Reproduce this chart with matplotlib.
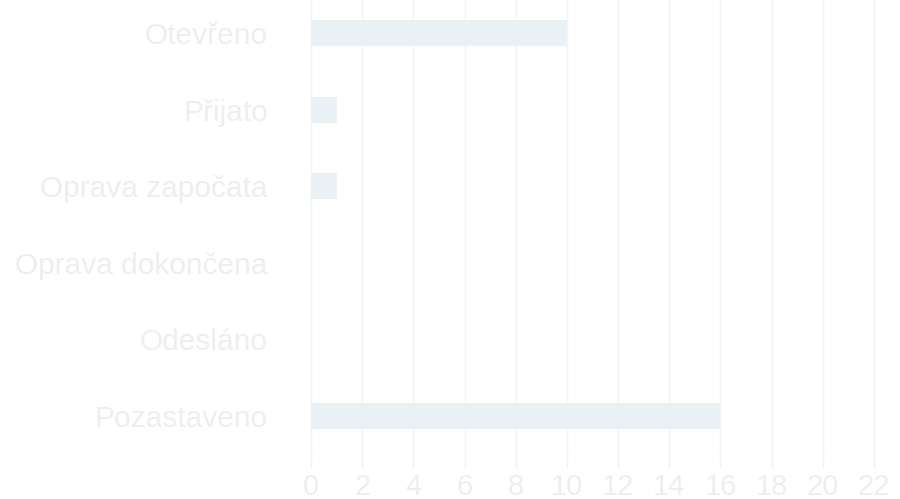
import matplotlib
matplotlib.use("Agg")
import matplotlib.pyplot as plt

categories = ["Otevřeno", "Přijato", "Oprava započata", "Oprava dokončena", "Odesláno", "Pozastaveno"]
values = [10, 1, 1, 0, 0, 16]
xticks = list(range(0, 23, 2))

plt.rcParams['font.family'] = ['Liberation Sans', 'DejaVu Sans']

fig = plt.figure(figsize=(9, 4.99), dpi=100)
top_px = -5.3
bot_px = 454
left_px = 311
right_px = 874
ax = fig.add_axes([left_px / 900, (499 - bot_px) / 499,
                   (right_px - left_px) / 900, (bot_px - top_px) / 499])

grid_c = "#f3f3f3"
text_c = "#eeeeee"
bar_c = "#e9f1f5"

ypos = list(range(len(categories)))
ax.barh(ypos, values, height=0.34, color=bar_c, zorder=2)
ax.set_ylim(len(categories) - 0.5, -0.5)
ax.set_xlim(0, 22)
ax.set_xticks(xticks)
ax.set_xticklabels([str(t) for t in xticks])
ax.set_yticks(ypos)
ax.set_yticklabels(categories)

for x in xticks:
    ax.axvline(x, color=grid_c, lw=1.0, zorder=1, clip_on=False)

for s in ax.spines.values():
    s.set_visible(False)

ax.tick_params(axis='x', length=10, width=1.0, color=grid_c, pad=3.5,
               labelsize=21, labelcolor=text_c)
ax.tick_params(axis='y', length=0, pad=31, labelsize=21.5, labelcolor=text_c)

fig.savefig("out.png", dpi=100)
